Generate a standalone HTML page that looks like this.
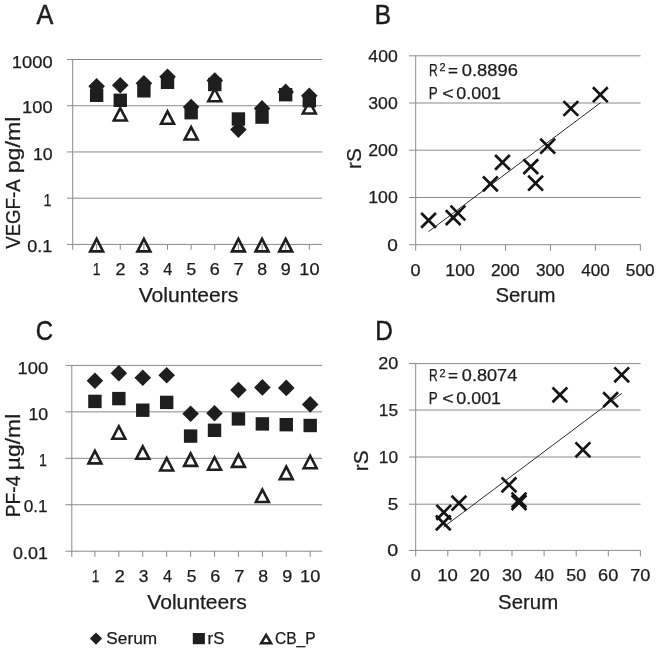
<!DOCTYPE html>
<html lang="en">
<head>
<meta charset="utf-8">
<title>Figure: VEGF-A and PF-4 in Serum, rS and CB_P</title>
<style>
html,body{margin:0;padding:0;background:#fff;}
svg{display:block;will-change:transform;}
svg text{font-family:"Liberation Sans",sans-serif;stroke:#1c1c1c;stroke-width:0.25px;}
</style>
</head>
<body>
<svg width="658" height="651" viewBox="0 0 658 651">
<rect width="658" height="651" fill="#ffffff"/>
<line x1="67.00" y1="59.50" x2="322.20" y2="59.50" stroke="#8a8a8a" stroke-width="1"/>
<line x1="67.00" y1="105.73" x2="322.20" y2="105.73" stroke="#8a8a8a" stroke-width="1"/>
<line x1="67.00" y1="151.96" x2="322.20" y2="151.96" stroke="#8a8a8a" stroke-width="1"/>
<line x1="67.00" y1="198.19" x2="322.20" y2="198.19" stroke="#8a8a8a" stroke-width="1"/>
<line x1="67.00" y1="244.42" x2="322.20" y2="244.42" stroke="#8a8a8a" stroke-width="1"/>
<line x1="72.70" y1="59.50" x2="72.70" y2="249.72" stroke="#8a8a8a" stroke-width="1"/>
<line x1="96.63" y1="244.42" x2="96.63" y2="249.72" stroke="#8a8a8a" stroke-width="1"/>
<line x1="120.26" y1="244.42" x2="120.26" y2="249.72" stroke="#8a8a8a" stroke-width="1"/>
<line x1="143.89" y1="244.42" x2="143.89" y2="249.72" stroke="#8a8a8a" stroke-width="1"/>
<line x1="167.52" y1="244.42" x2="167.52" y2="249.72" stroke="#8a8a8a" stroke-width="1"/>
<line x1="191.15" y1="244.42" x2="191.15" y2="249.72" stroke="#8a8a8a" stroke-width="1"/>
<line x1="214.78" y1="244.42" x2="214.78" y2="249.72" stroke="#8a8a8a" stroke-width="1"/>
<line x1="238.41" y1="244.42" x2="238.41" y2="249.72" stroke="#8a8a8a" stroke-width="1"/>
<line x1="262.04" y1="244.42" x2="262.04" y2="249.72" stroke="#8a8a8a" stroke-width="1"/>
<line x1="285.67" y1="244.42" x2="285.67" y2="249.72" stroke="#8a8a8a" stroke-width="1"/>
<line x1="309.30" y1="244.42" x2="309.30" y2="249.72" stroke="#8a8a8a" stroke-width="1"/>
<polygon points="96.63,77.90 104.93,86.20 96.63,94.50 88.33,86.20" fill="#1e1e1e"/>
<polygon points="120.26,77.00 128.56,85.30 120.26,93.60 111.96,85.30" fill="#1e1e1e"/>
<polygon points="143.89,74.90 152.19,83.20 143.89,91.50 135.59,83.20" fill="#1e1e1e"/>
<polygon points="167.52,68.50 175.82,76.80 167.52,85.10 159.22,76.80" fill="#1e1e1e"/>
<polygon points="191.15,98.70 199.45,107.00 191.15,115.30 182.85,107.00" fill="#1e1e1e"/>
<polygon points="214.78,72.20 223.08,80.50 214.78,88.80 206.48,80.50" fill="#1e1e1e"/>
<polygon points="238.41,121.30 246.71,129.60 238.41,137.90 230.11,129.60" fill="#1e1e1e"/>
<polygon points="262.04,100.10 270.34,108.40 262.04,116.70 253.74,108.40" fill="#1e1e1e"/>
<polygon points="285.67,83.60 293.97,91.90 285.67,100.20 277.37,91.90" fill="#1e1e1e"/>
<polygon points="309.30,87.50 317.60,95.80 309.30,104.10 301.00,95.80" fill="#1e1e1e"/>
<rect x="89.93" y="88.60" width="13.40" height="13.40" fill="#1e1e1e"/>
<rect x="113.56" y="93.60" width="13.40" height="13.40" fill="#1e1e1e"/>
<rect x="137.19" y="84.10" width="13.40" height="13.40" fill="#1e1e1e"/>
<rect x="160.82" y="75.60" width="13.40" height="13.40" fill="#1e1e1e"/>
<rect x="184.45" y="106.00" width="13.40" height="13.40" fill="#1e1e1e"/>
<rect x="208.08" y="77.80" width="13.40" height="13.40" fill="#1e1e1e"/>
<rect x="231.71" y="112.30" width="13.40" height="13.40" fill="#1e1e1e"/>
<rect x="255.34" y="110.40" width="13.40" height="13.40" fill="#1e1e1e"/>
<rect x="278.97" y="88.00" width="13.40" height="13.40" fill="#1e1e1e"/>
<rect x="302.60" y="94.00" width="13.40" height="13.40" fill="#1e1e1e"/>
<polygon points="96.63,238.93 103.09,251.40 90.17,251.40" fill="none" stroke="#1e1e1e" stroke-width="2.6" stroke-linejoin="miter" stroke-miterlimit="10"/>
<polygon points="120.26,108.03 126.72,120.50 113.80,120.50" fill="none" stroke="#1e1e1e" stroke-width="2.6" stroke-linejoin="miter" stroke-miterlimit="10"/>
<polygon points="143.89,238.93 150.35,251.40 137.43,251.40" fill="none" stroke="#1e1e1e" stroke-width="2.6" stroke-linejoin="miter" stroke-miterlimit="10"/>
<polygon points="167.52,111.33 173.98,123.80 161.06,123.80" fill="none" stroke="#1e1e1e" stroke-width="2.6" stroke-linejoin="miter" stroke-miterlimit="10"/>
<polygon points="191.15,127.03 197.61,139.50 184.69,139.50" fill="none" stroke="#1e1e1e" stroke-width="2.6" stroke-linejoin="miter" stroke-miterlimit="10"/>
<polygon points="214.78,88.73 221.24,101.20 208.32,101.20" fill="none" stroke="#1e1e1e" stroke-width="2.6" stroke-linejoin="miter" stroke-miterlimit="10"/>
<polygon points="238.41,238.93 244.87,251.40 231.95,251.40" fill="none" stroke="#1e1e1e" stroke-width="2.6" stroke-linejoin="miter" stroke-miterlimit="10"/>
<polygon points="262.04,238.93 268.50,251.40 255.58,251.40" fill="none" stroke="#1e1e1e" stroke-width="2.6" stroke-linejoin="miter" stroke-miterlimit="10"/>
<polygon points="285.67,238.93 292.13,251.40 279.21,251.40" fill="none" stroke="#1e1e1e" stroke-width="2.6" stroke-linejoin="miter" stroke-miterlimit="10"/>
<polygon points="309.30,101.03 315.76,113.50 302.84,113.50" fill="none" stroke="#1e1e1e" stroke-width="2.6" stroke-linejoin="miter" stroke-miterlimit="10"/>
<text x="11.89" y="67.80" font-size="16.2" textLength="40.74" lengthAdjust="spacingAndGlyphs" fill="#1c1c1c">1000</text>
<text x="22.09" y="113.13" font-size="16.2" textLength="30.49" lengthAdjust="spacingAndGlyphs" fill="#1c1c1c">100</text>
<text x="32.94" y="159.76" font-size="16.2" textLength="19.73" lengthAdjust="spacingAndGlyphs" fill="#1c1c1c">10</text>
<text x="43.39" y="205.99" font-size="16.2" textLength="8.00" lengthAdjust="spacingAndGlyphs" fill="#1c1c1c">1</text>
<text x="27.21" y="252.22" font-size="16.2" textLength="25.02" lengthAdjust="spacingAndGlyphs" fill="#1c1c1c">0.1</text>
<text x="92.76" y="274.60" font-size="16.2" textLength="7.75" lengthAdjust="spacingAndGlyphs" fill="#1c1c1c">1</text>
<text x="115.48" y="274.60" font-size="16.2" textLength="10.00" lengthAdjust="spacingAndGlyphs" fill="#1c1c1c">2</text>
<text x="139.27" y="274.60" font-size="16.2" textLength="9.68" lengthAdjust="spacingAndGlyphs" fill="#1c1c1c">3</text>
<text x="163.19" y="274.60" font-size="16.2" textLength="9.09" lengthAdjust="spacingAndGlyphs" fill="#1c1c1c">4</text>
<text x="186.53" y="274.60" font-size="16.2" textLength="9.68" lengthAdjust="spacingAndGlyphs" fill="#1c1c1c">5</text>
<text x="209.86" y="274.60" font-size="16.2" textLength="10.00" lengthAdjust="spacingAndGlyphs" fill="#1c1c1c">6</text>
<text x="233.48" y="274.60" font-size="16.2" textLength="10.17" lengthAdjust="spacingAndGlyphs" fill="#1c1c1c">7</text>
<text x="257.27" y="274.60" font-size="16.2" textLength="9.84" lengthAdjust="spacingAndGlyphs" fill="#1c1c1c">8</text>
<text x="280.89" y="274.60" font-size="16.2" textLength="10.00" lengthAdjust="spacingAndGlyphs" fill="#1c1c1c">9</text>
<text x="299.30" y="274.60" font-size="16.2" textLength="20.18" lengthAdjust="spacingAndGlyphs" fill="#1c1c1c">10</text>
<text x="138.67" y="302.00" font-size="20.4" textLength="99.61" lengthAdjust="spacingAndGlyphs" fill="#1c1c1c">Volunteers</text>
<text transform="translate(20.00,248.71) rotate(-90)" x="0" y="0" font-size="20.4" textLength="69.30" lengthAdjust="spacingAndGlyphs" fill="#1c1c1c">VEGF-A</text>
<text transform="translate(20.00,173.32) rotate(-90)" x="0" y="0" font-size="20.4" textLength="56.78" lengthAdjust="spacingAndGlyphs" fill="#1c1c1c">pg/ml</text>
<text x="36.59" y="23.90" font-size="28.5" textLength="16.82" lengthAdjust="spacingAndGlyphs" fill="#1c1c1c" style="stroke-width:0.55px">A</text>
<line x1="65.50" y1="365.40" x2="322.20" y2="365.40" stroke="#8a8a8a" stroke-width="1"/>
<line x1="65.50" y1="411.85" x2="322.20" y2="411.85" stroke="#8a8a8a" stroke-width="1"/>
<line x1="65.50" y1="458.30" x2="322.20" y2="458.30" stroke="#8a8a8a" stroke-width="1"/>
<line x1="65.50" y1="504.75" x2="322.20" y2="504.75" stroke="#8a8a8a" stroke-width="1"/>
<line x1="65.50" y1="551.20" x2="322.20" y2="551.20" stroke="#8a8a8a" stroke-width="1"/>
<line x1="71.80" y1="365.40" x2="71.80" y2="556.80" stroke="#8a8a8a" stroke-width="1"/>
<line x1="94.92" y1="551.20" x2="94.92" y2="556.80" stroke="#8a8a8a" stroke-width="1"/>
<line x1="118.84" y1="551.20" x2="118.84" y2="556.80" stroke="#8a8a8a" stroke-width="1"/>
<line x1="142.76" y1="551.20" x2="142.76" y2="556.80" stroke="#8a8a8a" stroke-width="1"/>
<line x1="166.68" y1="551.20" x2="166.68" y2="556.80" stroke="#8a8a8a" stroke-width="1"/>
<line x1="190.60" y1="551.20" x2="190.60" y2="556.80" stroke="#8a8a8a" stroke-width="1"/>
<line x1="214.52" y1="551.20" x2="214.52" y2="556.80" stroke="#8a8a8a" stroke-width="1"/>
<line x1="238.44" y1="551.20" x2="238.44" y2="556.80" stroke="#8a8a8a" stroke-width="1"/>
<line x1="262.36" y1="551.20" x2="262.36" y2="556.80" stroke="#8a8a8a" stroke-width="1"/>
<line x1="286.28" y1="551.20" x2="286.28" y2="556.80" stroke="#8a8a8a" stroke-width="1"/>
<line x1="310.20" y1="551.20" x2="310.20" y2="556.80" stroke="#8a8a8a" stroke-width="1"/>
<polygon points="94.92,372.50 103.22,380.80 94.92,389.10 86.62,380.80" fill="#1e1e1e"/>
<polygon points="118.84,364.90 127.14,373.20 118.84,381.50 110.54,373.20" fill="#1e1e1e"/>
<polygon points="142.76,369.50 151.06,377.80 142.76,386.10 134.46,377.80" fill="#1e1e1e"/>
<polygon points="166.68,367.00 174.98,375.30 166.68,383.60 158.38,375.30" fill="#1e1e1e"/>
<polygon points="190.60,405.50 198.90,413.80 190.60,422.10 182.30,413.80" fill="#1e1e1e"/>
<polygon points="214.52,405.00 222.82,413.30 214.52,421.60 206.22,413.30" fill="#1e1e1e"/>
<polygon points="238.44,381.70 246.74,390.00 238.44,398.30 230.14,390.00" fill="#1e1e1e"/>
<polygon points="262.36,379.10 270.66,387.40 262.36,395.70 254.06,387.40" fill="#1e1e1e"/>
<polygon points="286.28,379.60 294.58,387.90 286.28,396.20 277.98,387.90" fill="#1e1e1e"/>
<polygon points="310.20,396.10 318.50,404.40 310.20,412.70 301.90,404.40" fill="#1e1e1e"/>
<rect x="88.22" y="394.70" width="13.40" height="13.40" fill="#1e1e1e"/>
<rect x="112.14" y="391.90" width="13.40" height="13.40" fill="#1e1e1e"/>
<rect x="136.06" y="403.50" width="13.40" height="13.40" fill="#1e1e1e"/>
<rect x="159.98" y="395.70" width="13.40" height="13.40" fill="#1e1e1e"/>
<rect x="183.90" y="429.40" width="13.40" height="13.40" fill="#1e1e1e"/>
<rect x="207.82" y="423.60" width="13.40" height="13.40" fill="#1e1e1e"/>
<rect x="231.74" y="412.20" width="13.40" height="13.40" fill="#1e1e1e"/>
<rect x="255.66" y="417.20" width="13.40" height="13.40" fill="#1e1e1e"/>
<rect x="279.58" y="418.00" width="13.40" height="13.40" fill="#1e1e1e"/>
<rect x="303.50" y="418.80" width="13.40" height="13.40" fill="#1e1e1e"/>
<polygon points="94.92,450.93 101.38,463.40 88.46,463.40" fill="none" stroke="#1e1e1e" stroke-width="2.6" stroke-linejoin="miter" stroke-miterlimit="10"/>
<polygon points="118.84,426.23 125.30,438.70 112.38,438.70" fill="none" stroke="#1e1e1e" stroke-width="2.6" stroke-linejoin="miter" stroke-miterlimit="10"/>
<polygon points="142.76,446.33 149.22,458.80 136.30,458.80" fill="none" stroke="#1e1e1e" stroke-width="2.6" stroke-linejoin="miter" stroke-miterlimit="10"/>
<polygon points="166.68,458.03 173.14,470.50 160.22,470.50" fill="none" stroke="#1e1e1e" stroke-width="2.6" stroke-linejoin="miter" stroke-miterlimit="10"/>
<polygon points="190.60,453.43 197.06,465.90 184.14,465.90" fill="none" stroke="#1e1e1e" stroke-width="2.6" stroke-linejoin="miter" stroke-miterlimit="10"/>
<polygon points="214.52,457.23 220.98,469.70 208.06,469.70" fill="none" stroke="#1e1e1e" stroke-width="2.6" stroke-linejoin="miter" stroke-miterlimit="10"/>
<polygon points="238.44,454.43 244.90,466.90 231.98,466.90" fill="none" stroke="#1e1e1e" stroke-width="2.6" stroke-linejoin="miter" stroke-miterlimit="10"/>
<polygon points="262.36,489.53 268.82,502.00 255.90,502.00" fill="none" stroke="#1e1e1e" stroke-width="2.6" stroke-linejoin="miter" stroke-miterlimit="10"/>
<polygon points="286.28,466.63 292.74,479.10 279.82,479.10" fill="none" stroke="#1e1e1e" stroke-width="2.6" stroke-linejoin="miter" stroke-miterlimit="10"/>
<polygon points="310.20,455.73 316.66,468.20 303.74,468.20" fill="none" stroke="#1e1e1e" stroke-width="2.6" stroke-linejoin="miter" stroke-miterlimit="10"/>
<text x="17.49" y="373.60" font-size="16.2" textLength="30.60" lengthAdjust="spacingAndGlyphs" fill="#1c1c1c">100</text>
<text x="28.44" y="419.55" font-size="16.2" textLength="19.73" lengthAdjust="spacingAndGlyphs" fill="#1c1c1c">10</text>
<text x="38.89" y="466.00" font-size="16.2" textLength="8.00" lengthAdjust="spacingAndGlyphs" fill="#1c1c1c">1</text>
<text x="23.74" y="512.45" font-size="16.2" textLength="23.95" lengthAdjust="spacingAndGlyphs" fill="#1c1c1c">0.1</text>
<text x="13.11" y="558.90" font-size="16.2" textLength="34.71" lengthAdjust="spacingAndGlyphs" fill="#1c1c1c">0.01</text>
<text x="91.75" y="582.20" font-size="16.2" textLength="7.75" lengthAdjust="spacingAndGlyphs" fill="#1c1c1c">1</text>
<text x="114.76" y="582.20" font-size="16.2" textLength="10.00" lengthAdjust="spacingAndGlyphs" fill="#1c1c1c">2</text>
<text x="138.84" y="582.20" font-size="16.2" textLength="9.68" lengthAdjust="spacingAndGlyphs" fill="#1c1c1c">3</text>
<text x="163.05" y="582.20" font-size="16.2" textLength="9.09" lengthAdjust="spacingAndGlyphs" fill="#1c1c1c">4</text>
<text x="186.68" y="582.20" font-size="16.2" textLength="9.68" lengthAdjust="spacingAndGlyphs" fill="#1c1c1c">5</text>
<text x="210.30" y="582.20" font-size="16.2" textLength="10.00" lengthAdjust="spacingAndGlyphs" fill="#1c1c1c">6</text>
<text x="234.21" y="582.20" font-size="16.2" textLength="10.17" lengthAdjust="spacingAndGlyphs" fill="#1c1c1c">7</text>
<text x="258.29" y="582.20" font-size="16.2" textLength="9.84" lengthAdjust="spacingAndGlyphs" fill="#1c1c1c">8</text>
<text x="282.20" y="582.20" font-size="16.2" textLength="10.00" lengthAdjust="spacingAndGlyphs" fill="#1c1c1c">9</text>
<text x="300.10" y="582.20" font-size="16.2" textLength="20.18" lengthAdjust="spacingAndGlyphs" fill="#1c1c1c">10</text>
<text x="147.27" y="609.40" font-size="20.4" textLength="99.61" lengthAdjust="spacingAndGlyphs" fill="#1c1c1c">Volunteers</text>
<text transform="translate(20.00,517.24) rotate(-90)" x="0" y="0" font-size="20.4" textLength="41.73" lengthAdjust="spacingAndGlyphs" fill="#1c1c1c">PF-4</text>
<text transform="translate(20.00,470.14) rotate(-90)" x="0" y="0" font-size="20.4" textLength="56.37" lengthAdjust="spacingAndGlyphs" fill="#1c1c1c">µg/ml</text>
<text x="35.85" y="339.90" font-size="28.5" textLength="17.26" lengthAdjust="spacingAndGlyphs" fill="#1c1c1c" style="stroke-width:0.55px">C</text>
<polygon points="96.00,632.50 102.10,638.60 96.00,644.70 89.90,638.60" fill="#1e1e1e"/>
<text x="106.30" y="644.10" font-size="16.3" textLength="50.84" lengthAdjust="spacingAndGlyphs" fill="#1c1c1c">Serum</text>
<rect x="192.8" y="633.0" width="12.1" height="11.2" fill="#1e1e1e"/>
<text x="207.64" y="644.10" font-size="16.3" textLength="16.73" lengthAdjust="spacingAndGlyphs" fill="#1c1c1c">rS</text>
<polygon points="266.10,634.93 271.09,643.25 261.11,643.25" fill="none" stroke="#1e1e1e" stroke-width="2.5" stroke-linejoin="miter" stroke-miterlimit="10"/>
<text x="274.96" y="644.10" font-size="16.3" textLength="40.73" lengthAdjust="spacingAndGlyphs" fill="#1c1c1c">CB_P</text>
<line x1="409.00" y1="55.80" x2="640.60" y2="55.80" stroke="#8a8a8a" stroke-width="1"/>
<line x1="409.00" y1="103.00" x2="640.60" y2="103.00" stroke="#8a8a8a" stroke-width="1"/>
<line x1="409.00" y1="150.20" x2="640.60" y2="150.20" stroke="#8a8a8a" stroke-width="1"/>
<line x1="409.00" y1="197.50" x2="640.60" y2="197.50" stroke="#8a8a8a" stroke-width="1"/>
<line x1="409.00" y1="244.70" x2="640.60" y2="244.70" stroke="#8a8a8a" stroke-width="1"/>
<line x1="415.70" y1="55.80" x2="415.70" y2="250.70" stroke="#8a8a8a" stroke-width="1"/>
<line x1="460.55" y1="244.70" x2="460.55" y2="250.70" stroke="#8a8a8a" stroke-width="1"/>
<line x1="505.50" y1="244.70" x2="505.50" y2="250.70" stroke="#8a8a8a" stroke-width="1"/>
<line x1="550.45" y1="244.70" x2="550.45" y2="250.70" stroke="#8a8a8a" stroke-width="1"/>
<line x1="595.40" y1="244.70" x2="595.40" y2="250.70" stroke="#8a8a8a" stroke-width="1"/>
<line x1="640.35" y1="244.70" x2="640.35" y2="250.70" stroke="#8a8a8a" stroke-width="1"/>
<line x1="428.55" y1="231.60" x2="600.60" y2="102.70" stroke="#2a2a2a" stroke-width="1"/>
<path d="M421.15,213.00L435.95,227.80M421.15,227.80L435.95,213.00" stroke="#141414" stroke-width="2.7" fill="none"/>
<path d="M445.80,210.20L460.60,225.00M445.80,225.00L460.60,210.20" stroke="#141414" stroke-width="2.7" fill="none"/>
<path d="M450.50,205.60L465.30,220.40M450.50,220.40L465.30,205.60" stroke="#141414" stroke-width="2.7" fill="none"/>
<path d="M483.00,176.50L497.80,191.30M483.00,191.30L497.80,176.50" stroke="#141414" stroke-width="2.7" fill="none"/>
<path d="M495.10,155.00L509.90,169.80M495.10,169.80L509.90,155.00" stroke="#141414" stroke-width="2.7" fill="none"/>
<path d="M523.40,159.20L538.20,174.00M523.40,174.00L538.20,159.20" stroke="#141414" stroke-width="2.7" fill="none"/>
<path d="M528.20,175.80L543.00,190.60M528.20,190.60L543.00,175.80" stroke="#141414" stroke-width="2.7" fill="none"/>
<path d="M540.30,138.80L555.10,153.60M540.30,153.60L555.10,138.80" stroke="#141414" stroke-width="2.7" fill="none"/>
<path d="M563.45,101.10L578.25,115.90M563.45,115.90L578.25,101.10" stroke="#141414" stroke-width="2.7" fill="none"/>
<path d="M592.95,87.30L607.75,102.10M592.95,102.10L607.75,87.30" stroke="#141414" stroke-width="2.7" fill="none"/>
<text x="368.39" y="61.90" font-size="16.2" textLength="29.37" lengthAdjust="spacingAndGlyphs" fill="#1c1c1c">400</text>
<text x="368.32" y="108.80" font-size="16.2" textLength="29.44" lengthAdjust="spacingAndGlyphs" fill="#1c1c1c">300</text>
<text x="368.18" y="156.00" font-size="16.2" textLength="29.59" lengthAdjust="spacingAndGlyphs" fill="#1c1c1c">200</text>
<text x="368.24" y="203.30" font-size="16.2" textLength="29.53" lengthAdjust="spacingAndGlyphs" fill="#1c1c1c">100</text>
<text x="387.27" y="250.50" font-size="16.2" textLength="10.61" lengthAdjust="spacingAndGlyphs" fill="#1c1c1c">0</text>
<text x="410.51" y="275.50" font-size="16.2" textLength="10.03" lengthAdjust="spacingAndGlyphs" fill="#1c1c1c">0</text>
<text x="445.39" y="275.50" font-size="16.2" textLength="29.42" lengthAdjust="spacingAndGlyphs" fill="#1c1c1c">100</text>
<text x="490.90" y="275.50" font-size="16.2" textLength="28.85" lengthAdjust="spacingAndGlyphs" fill="#1c1c1c">200</text>
<text x="535.99" y="275.50" font-size="16.2" textLength="28.71" lengthAdjust="spacingAndGlyphs" fill="#1c1c1c">300</text>
<text x="581.21" y="275.50" font-size="16.2" textLength="28.43" lengthAdjust="spacingAndGlyphs" fill="#1c1c1c">400</text>
<text x="625.89" y="275.50" font-size="16.2" textLength="28.71" lengthAdjust="spacingAndGlyphs" fill="#1c1c1c">500</text>
<text x="495.40" y="301.50" font-size="20.4" textLength="60.09" lengthAdjust="spacingAndGlyphs" fill="#1c1c1c">Serum</text>
<text transform="translate(360.90,168.91) rotate(-90)" x="0" y="0" font-size="20.4" textLength="20.83" lengthAdjust="spacingAndGlyphs" fill="#1c1c1c">rS</text>
<text x="374.77" y="23.60" font-size="28.5" textLength="16.21" lengthAdjust="spacingAndGlyphs" fill="#1c1c1c" style="stroke-width:0.55px">B</text>
<text x="428.92" y="75.90" font-size="17.0" textLength="8.73" lengthAdjust="spacingAndGlyphs" fill="#1c1c1c">R</text>
<text x="439.60" y="71.40" font-size="10.88" textLength="6.05" lengthAdjust="spacingAndGlyphs" fill="#1c1c1c">2</text>
<text x="448.12" y="75.90" font-size="17.0" textLength="9.99" lengthAdjust="spacingAndGlyphs" fill="#1c1c1c">=</text>
<text x="461.83" y="75.90" font-size="17.0" textLength="56.08" lengthAdjust="spacingAndGlyphs" fill="#1c1c1c">0.8896</text>
<text x="428.82" y="98.80" font-size="17.0" textLength="8.95" lengthAdjust="spacingAndGlyphs" fill="#1c1c1c">P</text>
<text x="442.39" y="98.80" font-size="17.0" textLength="11.43" lengthAdjust="spacingAndGlyphs" fill="#1c1c1c">&lt;</text>
<text x="456.34" y="98.80" font-size="17.0" textLength="44.69" lengthAdjust="spacingAndGlyphs" fill="#1c1c1c">0.001</text>
<line x1="409.00" y1="363.60" x2="640.60" y2="363.60" stroke="#8a8a8a" stroke-width="1"/>
<line x1="409.00" y1="410.00" x2="640.60" y2="410.00" stroke="#8a8a8a" stroke-width="1"/>
<line x1="409.00" y1="457.00" x2="640.60" y2="457.00" stroke="#8a8a8a" stroke-width="1"/>
<line x1="409.00" y1="504.20" x2="640.60" y2="504.20" stroke="#8a8a8a" stroke-width="1"/>
<line x1="409.00" y1="550.40" x2="640.60" y2="550.40" stroke="#8a8a8a" stroke-width="1"/>
<line x1="415.70" y1="363.60" x2="415.70" y2="556.40" stroke="#8a8a8a" stroke-width="1"/>
<line x1="447.80" y1="550.40" x2="447.80" y2="556.40" stroke="#8a8a8a" stroke-width="1"/>
<line x1="479.90" y1="550.40" x2="479.90" y2="556.40" stroke="#8a8a8a" stroke-width="1"/>
<line x1="512.00" y1="550.40" x2="512.00" y2="556.40" stroke="#8a8a8a" stroke-width="1"/>
<line x1="544.10" y1="550.40" x2="544.10" y2="556.40" stroke="#8a8a8a" stroke-width="1"/>
<line x1="576.20" y1="550.40" x2="576.20" y2="556.40" stroke="#8a8a8a" stroke-width="1"/>
<line x1="608.30" y1="550.40" x2="608.30" y2="556.40" stroke="#8a8a8a" stroke-width="1"/>
<line x1="640.40" y1="550.40" x2="640.40" y2="556.40" stroke="#8a8a8a" stroke-width="1"/>
<line x1="443.40" y1="527.20" x2="621.90" y2="393.30" stroke="#2a2a2a" stroke-width="1"/>
<path d="M436.40,504.90L451.20,519.70M436.40,519.70L451.20,504.90" stroke="#141414" stroke-width="2.7" fill="none"/>
<path d="M435.90,515.50L450.70,530.30M435.90,530.30L450.70,515.50" stroke="#141414" stroke-width="2.7" fill="none"/>
<path d="M451.55,495.70L466.35,510.50M451.55,510.50L466.35,495.70" stroke="#141414" stroke-width="2.7" fill="none"/>
<path d="M501.60,477.50L516.40,492.30M501.60,492.30L516.40,477.50" stroke="#141414" stroke-width="2.7" fill="none"/>
<path d="M511.60,492.60L526.40,507.40M511.60,507.40L526.40,492.60" stroke="#141414" stroke-width="2.7" fill="none"/>
<path d="M511.60,495.20L526.40,510.00M511.60,510.00L526.40,495.20" stroke="#141414" stroke-width="2.7" fill="none"/>
<path d="M552.50,387.50L567.30,402.30M552.50,402.30L567.30,387.50" stroke="#141414" stroke-width="2.7" fill="none"/>
<path d="M575.50,442.40L590.30,457.20M575.50,457.20L590.30,442.40" stroke="#141414" stroke-width="2.7" fill="none"/>
<path d="M603.20,392.30L618.00,407.10M603.20,407.10L618.00,392.30" stroke="#141414" stroke-width="2.7" fill="none"/>
<path d="M614.30,367.40L629.10,382.20M614.30,382.20L629.10,367.40" stroke="#141414" stroke-width="2.7" fill="none"/>
<text x="378.17" y="368.60" font-size="16.2" textLength="20.00" lengthAdjust="spacingAndGlyphs" fill="#1c1c1c">20</text>
<text x="378.87" y="415.90" font-size="16.2" textLength="19.28" lengthAdjust="spacingAndGlyphs" fill="#1c1c1c">15</text>
<text x="378.87" y="462.90" font-size="16.2" textLength="19.28" lengthAdjust="spacingAndGlyphs" fill="#1c1c1c">10</text>
<text x="387.67" y="510.10" font-size="16.2" textLength="10.49" lengthAdjust="spacingAndGlyphs" fill="#1c1c1c">5</text>
<text x="387.24" y="556.30" font-size="16.2" textLength="10.96" lengthAdjust="spacingAndGlyphs" fill="#1c1c1c">0</text>
<text x="410.71" y="581.40" font-size="16.2" textLength="10.03" lengthAdjust="spacingAndGlyphs" fill="#1c1c1c">0</text>
<text x="437.17" y="581.40" font-size="16.2" textLength="20.62" lengthAdjust="spacingAndGlyphs" fill="#1c1c1c">10</text>
<text x="469.87" y="581.40" font-size="16.2" textLength="20.00" lengthAdjust="spacingAndGlyphs" fill="#1c1c1c">20</text>
<text x="502.11" y="581.40" font-size="16.2" textLength="19.85" lengthAdjust="spacingAndGlyphs" fill="#1c1c1c">30</text>
<text x="534.49" y="581.40" font-size="16.2" textLength="19.56" lengthAdjust="spacingAndGlyphs" fill="#1c1c1c">40</text>
<text x="566.31" y="581.40" font-size="16.2" textLength="19.85" lengthAdjust="spacingAndGlyphs" fill="#1c1c1c">50</text>
<text x="598.12" y="581.40" font-size="16.2" textLength="20.16" lengthAdjust="spacingAndGlyphs" fill="#1c1c1c">60</text>
<text x="630.22" y="581.40" font-size="16.2" textLength="20.16" lengthAdjust="spacingAndGlyphs" fill="#1c1c1c">70</text>
<text x="498.10" y="609.20" font-size="20.4" textLength="60.09" lengthAdjust="spacingAndGlyphs" fill="#1c1c1c">Serum</text>
<text transform="translate(367.70,471.31) rotate(-90)" x="0" y="0" font-size="20.4" textLength="20.83" lengthAdjust="spacingAndGlyphs" fill="#1c1c1c">rS</text>
<text x="375.17" y="340.30" font-size="28.5" textLength="17.56" lengthAdjust="spacingAndGlyphs" fill="#1c1c1c" style="stroke-width:0.55px">D</text>
<text x="428.92" y="381.20" font-size="17.0" textLength="8.73" lengthAdjust="spacingAndGlyphs" fill="#1c1c1c">R</text>
<text x="439.60" y="376.70" font-size="10.88" textLength="6.05" lengthAdjust="spacingAndGlyphs" fill="#1c1c1c">2</text>
<text x="448.12" y="381.20" font-size="17.0" textLength="9.99" lengthAdjust="spacingAndGlyphs" fill="#1c1c1c">=</text>
<text x="461.83" y="381.20" font-size="17.0" textLength="55.40" lengthAdjust="spacingAndGlyphs" fill="#1c1c1c">0.8074</text>
<text x="428.82" y="404.30" font-size="17.0" textLength="8.95" lengthAdjust="spacingAndGlyphs" fill="#1c1c1c">P</text>
<text x="442.39" y="404.30" font-size="17.0" textLength="11.43" lengthAdjust="spacingAndGlyphs" fill="#1c1c1c">&lt;</text>
<text x="456.34" y="404.30" font-size="17.0" textLength="44.69" lengthAdjust="spacingAndGlyphs" fill="#1c1c1c">0.001</text>
</svg>
</body>
</html>
